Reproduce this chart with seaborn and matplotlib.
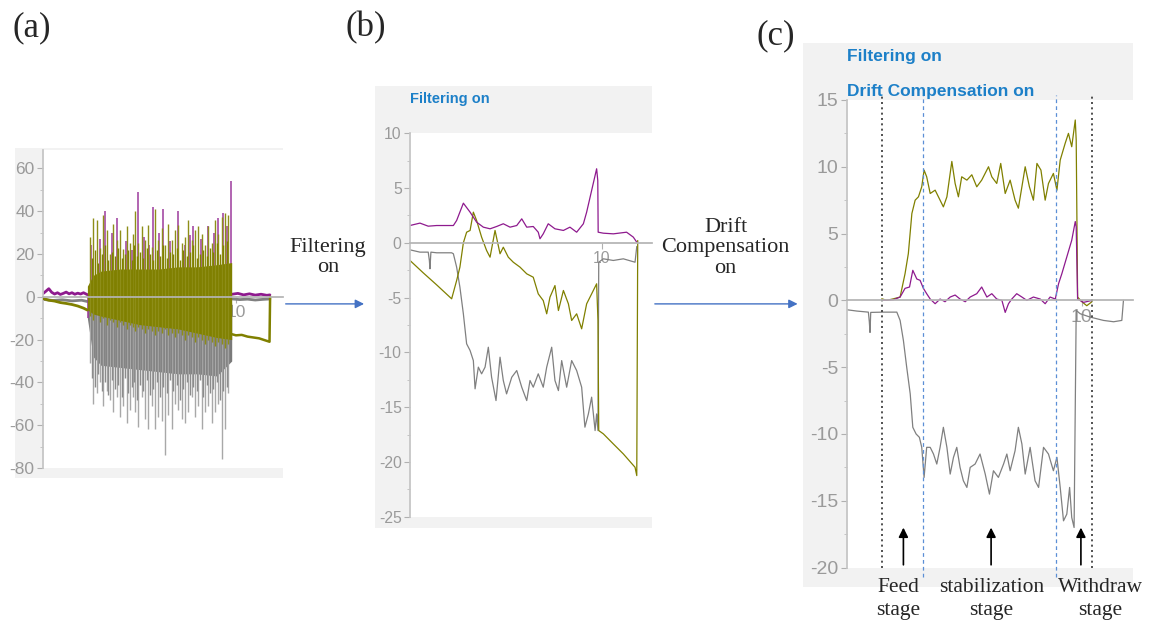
import numpy as np
import pandas as pd
import matplotlib
matplotlib.use("Agg")
import matplotlib.pyplot as plt
from matplotlib.patches import Rectangle, FancyArrowPatch
from matplotlib.ticker import MultipleLocator
import seaborn as sns

sns.set_theme(style="white")
plt.rcParams['font.family'] = ['Liberation Sans', 'DejaVu Sans']
plt.rcParams['axes.unicode_minus'] = False

OLIVE = '#808000'
PURPLE = '#8e1a8e'
GREY = '#808080'
BLUE_TXT = '#1d80c8'
SERIF = ['Liberation Serif', 'DejaVu Serif']

# ---------------- (a) raw signal, (time, value) ----------------
a_mag_pre = [(0, 1.5), (0.15, 2.6), (0.3, 3.8), (0.45, 2.1), (0.6, 1.3), (0.75, 1.9), (0.9, 1.1),
             (1.05, 1.6), (1.2, 2.2), (1.35, 1.4), (1.5, 1.9), (1.65, 1.2), (1.8, 1.7), (1.95, 1.3),
             (2.1, 1.9), (2.30, 1.0)]
a_mag_post = [(9.80, 1.2), (10.1, 1.6), (10.4, 0.9), (10.7, 1.4), (11.0, 0.8), (11.3, 1.2),
              (11.6, 0.7), (11.76, 0.9)]
a_grey_pre = [(0, -1.2), (0.5, -1.7), (1.0, -1.4), (1.5, -1.9), (2.0, -1.6), (2.30, -2.2)]
a_grey_post = [(9.80, -1.0), (10.2, -1.3), (10.6, -1.1), (11.0, -1.5), (11.4, -1.2), (11.76, -1.0)]
a_olive_pre = [(0, -0.8), (0.3, -1.6), (0.6, -2.0), (0.9, -2.7), (1.2, -3.1), (1.5, -3.6),
               (1.8, -4.3), (2.1, -5.3), (2.30, -6.2)]
a_olive_post = [(9.80, -17.5), (10.0, -18.0), (10.3, -17.8), (10.6, -18.6), (10.9, -19.0),
                (11.2, -19.4), (11.5, -20.3), (11.74, -21.0), (11.77, 0)]

# burst: tall spikes (olive tops / bottoms, grey bottoms)
a_spike_t = [2.44, 2.61, 2.78, 2.95, 3.13, 3.30, 3.47, 3.64, 3.82, 3.99, 4.16, 4.34, 4.51, 4.68,
             4.77, 4.94, 5.11, 5.28, 5.46, 5.63, 5.80, 5.98, 6.15, 6.32, 6.49, 6.67, 6.84, 7.01,
             7.18, 7.36, 7.53, 7.70, 7.88, 8.05, 8.22, 8.39, 8.57, 8.74, 8.91, 9.08, 9.26, 9.43, 9.60]
a_olive_top = [28, 37, 36, 23, 38, 31, 20, 34, 26.5, 31, 22.5, 33, 25, 29.5, 40, 25, 33, 26.5,
               33.5, 23.5, 41, 26.5, 32, 24, 34, 26.5, 31, 33.5, 25, 28, 36, 26.5, 31, 33, 29.5,
               24, 33, 25, 36, 29.5, 37.5, 39, 38]
a_olive_bot = [-9, -11, -8, -12, -10, -13, -11, -12, -14, -12, -13, -15, -13, -14, -16, -14, -15,
               -17, -15, -16, -18, -16, -17, -15, -18, -17, -19, -17, -18, -20, -18, -19, -21, -19,
               -20, -22, -20, -21, -23, -21, -22, -24, -22]
a_grey_bot = [-31, -50, -45, -40, -51, -44, -48, -54, -47, -56, -51, -59, -53, -47, -54, -61, -47,
              -57, -62, -51, -62, -56, -58, -74, -55, -62, -50, -53, -57, -59, -54, -47, -56, -51,
              -62, -54, -51, -59, -54, -50, -76, -62, -45]
# burst: shorter spikes in between
a_spike_t2 = [2.525, 2.695, 2.865, 3.04, 3.215, 3.385, 3.555, 3.73, 3.905, 4.075, 4.25, 4.425,
              4.595, 4.725, 4.855, 5.025, 5.195, 5.37, 5.545, 5.715, 5.89, 6.065, 6.235, 6.405,
              6.58, 6.755, 6.925, 7.095, 7.27, 7.445, 7.615, 7.79, 7.965, 8.135, 8.305, 8.48,
              8.655, 8.825, 8.995, 9.17, 9.345, 9.515]
a_olive_top2 = [18, 22, 16, 20, 24, 17, 21, 19, 23, 18, 20, 22, 17, 24, 19, 21, 18, 23, 20, 17,
                22, 19, 24, 18, 21, 20, 23, 17, 22, 19, 21, 24, 18, 20, 22, 19, 23, 21, 25, 20,
                24, 26]
a_grey_bot2 = [-38, -42, -36, -44, -40, -46, -39, -43, -41, -47, -38, -45, -42, -40, -48, -41,
               -44, -39, -46, -43, -40, -47, -42, -45, -39, -44, -41, -48, -43, -40, -46, -42,
               -44, -39, -47, -41, -45, -43, -40, -48, -44, -42]
a_mag_spikes = [(2.32, -10), (2.50, 24), (2.95, 27), (3.21, 40), (3.55, 30), (3.82, 37), (4.30, 26),
                (4.60, 22), (4.90, 49), (5.25, 28), (5.50, 24), (5.72, 42), (6.00, 30), (6.23, 41),
                (6.60, 26), (7.01, 40), (7.35, 24), (7.60, 29), (7.79, 33), (8.20, 27), (8.57, 33),
                (8.85, 30), (9.08, 37), (9.34, 39), (9.55, 33), (9.72, 54)]
a_core_t = [2.30, 2.6, 3.0, 4.0, 5.0, 6.0, 7.0, 8.0, 9.0, 9.78]
a_olive_core_hi = [5, 10, 12, 13, 13, 13, 14, 14, 15, 16]
a_olive_core_lo = [-6, -8, -9, -11, -13, -14, -15, -17, -19, -20]
a_grey_core_lo = [-10, -28, -32, -33, -34, -35, -36, -36, -37, -30]

# ---------------- (b) filtering on ----------------
b_magenta = [(0, 1.58), (0.52, 1.80), (0.95, 1.52), (1.39, 1.58), (2.26, 1.58), (2.43, 2.04),
             (2.78, 3.62), (3.13, 2.80), (3.47, 1.89), (3.82, 1.43), (4.17, 1.28), (4.51, 1.49),
             (4.86, 1.74), (5.21, 1.43), (5.56, 1.58), (5.82, 2.19), (6.08, 1.43), (6.42, 1.49),
             (6.68, 0.97), (6.77, 0.37), (6.94, 0.82), (7.20, 1.74), (7.55, 1.28), (7.99, 1.13),
             (8.33, 1.43), (8.68, 0.97), (9.03, 1.74), (9.20, 2.80), (9.46, 4.78), (9.72, 6.76),
             (9.78, 5.69), (9.80, 0.97), (10.07, 0.88), (10.59, 0.82), (11.28, 0.97), (11.63, 0.52),
             (11.81, 0.06)]
b_grey = [(0, -0.64), (0.52, -0.85), (0.95, -0.85), (1.01, -1.61), (1.04, -2.37), (1.09, -0.85),
          (1.39, -0.91), (2.17, -0.91), (2.26, -1.0), (2.43, -2.22), (2.60, -4.05), (2.78, -6.48),
          (2.95, -9.22), (3.13, -9.83), (3.30, -10.75), (3.39, -13.33), (3.56, -11.35),
          (3.73, -11.96), (3.91, -11.35), (4.08, -9.53), (4.25, -12.27), (4.48, -14.4),
          (4.69, -10.44), (4.86, -12.57), (5.03, -13.79), (5.30, -12.27), (5.56, -11.66),
          (5.82, -13.18), (6.08, -14.4), (6.25, -12.57), (6.42, -13.18), (6.68, -11.96),
          (6.94, -13.18), (7.12, -11.35), (7.38, -9.53), (7.55, -12.57), (7.73, -13.49),
          (7.90, -10.75), (8.16, -13.18), (8.42, -10.75), (8.68, -11.66), (8.94, -13.18),
          (9.11, -16.83), (9.29, -15.62), (9.46, -14.09), (9.64, -17.14), (9.72, -15.62),
          (9.79, -17.14), (9.83, -1.77), (10.07, -1.46), (10.59, -1.61), (11.11, -1.46),
          (11.72, -1.77), (11.81, -0.33)]
b_olive = [(0, -1.61), (0.69, -2.74), (1.39, -3.84), (2.17, -5.11), (2.43, -3.44), (2.60, -2.22),
           (2.78, 0), (2.95, 0.97), (3.13, 1.13), (3.30, 2.80), (3.47, 2.04), (3.73, 0.52),
           (3.99, -0.70), (4.17, -1.31), (4.43, 1.13), (4.69, -1.0), (4.86, -0.40), (5.12, -1.31),
           (5.38, -1.77), (5.73, -2.22), (6.08, -2.83), (6.42, -3.14), (6.68, -4.66), (6.94, -5.27),
           (7.12, -6.48), (7.29, -4.96), (7.55, -3.90), (7.73, -6.18), (7.99, -4.35), (8.25, -5.57),
           (8.42, -7.09), (8.68, -6.48), (8.94, -7.85), (9.20, -5.57), (9.46, -4.66), (9.72, -3.74),
           (9.79, -7.09), (9.83, -17.14), (10.07, -17.44), (10.59, -18.36), (11.11, -19.27),
           (11.72, -20.49), (11.81, -21.25), (11.86, 0.21)]

# ---------------- (c) filtering + drift compensation on ----------------
c_olive = [(1.49, 0.12), (1.70, 0), (1.99, 0.12), (2.27, 0.25), (2.48, 2.0), (2.62, 3.5), (2.77, 6.5),
           (2.91, 7.5), (3.05, 7.75), (3.19, 8.5), (3.29, 9.75), (3.40, 9.25), (3.55, 8.0),
           (3.76, 8.25), (3.90, 7.75), (4.11, 7.0), (4.26, 7.75), (4.47, 10.4), (4.61, 8.75),
           (4.75, 7.75), (4.89, 9.25), (5.11, 9.0), (5.32, 9.4), (5.53, 8.5), (5.74, 9.0),
           (6.03, 10.0), (6.17, 9.25), (6.38, 8.75), (6.55, 10.25), (6.74, 8.0), (6.95, 9.0),
           (7.16, 7.5), (7.30, 6.9), (7.45, 8.5), (7.59, 10.0), (7.77, 8.5), (7.94, 7.5),
           (8.09, 10.25), (8.26, 9.75), (8.44, 7.5), (8.58, 8.75), (8.79, 9.5), (8.94, 8.25),
           (9.08, 10.5), (9.29, 11.75), (9.43, 12.5), (9.57, 11.5), (9.72, 13.5), (9.76, 12.0),
           (9.82, 0.25), (10.0, -0.1), (10.21, -0.4), (10.43, -0.1)]
c_magenta = [(1.56, 0), (1.99, 0.05), (2.27, 0.25), (2.48, 0.9), (2.67, 1.0), (2.81, 2.25),
             (2.98, 1.6), (3.12, 1.5), (3.26, 0.9), (3.40, 0.5), (3.55, 0.1), (3.76, -0.25),
             (3.97, 0.1), (4.18, -0.1), (4.40, 0.25), (4.61, 0.4), (4.82, 0.1), (5.04, -0.1),
             (5.25, 0.25), (5.53, 0.5), (5.74, 1.0), (5.96, 0.25), (6.17, 0.5), (6.38, 0.1),
             (6.60, 0), (6.74, -0.9), (6.88, -0.25), (7.02, 0.1), (7.23, 0.5), (7.45, 0.25),
             (7.66, 0), (7.94, 0.25), (8.23, 0.1), (8.44, -0.25), (8.65, 0.25), (8.87, 0.1),
             (9.01, 1.25), (9.15, 2.0), (9.36, 3.25), (9.57, 4.5), (9.72, 5.9), (9.76, 5.5),
             (9.82, 0.1), (10.07, -0.15), (10.43, 0)]
c_grey = [(0, -0.7), (0.43, -0.8), (0.92, -0.88), (0.96, -1.6), (0.99, -2.4), (1.02, -0.9),
          (1.56, -0.88), (2.13, -0.88), (2.27, -1.5), (2.41, -3.0), (2.55, -5.0), (2.70, -7.0),
          (2.81, -9.5), (2.95, -10.0), (3.09, -10.25), (3.19, -11.0), (3.29, -13.25), (3.40, -11.0),
          (3.55, -11.0), (3.69, -11.5), (3.83, -12.25), (3.97, -11.0), (4.11, -9.5), (4.26, -11.0),
          (4.40, -13.0), (4.54, -11.75), (4.68, -11.0), (4.82, -12.5), (4.96, -13.5), (5.11, -14.0),
          (5.25, -12.5), (5.46, -12.25), (5.67, -11.5), (5.89, -13.0), (6.07, -14.5), (6.24, -12.75),
          (6.45, -13.25), (6.67, -12.25), (6.81, -11.5), (6.95, -12.75), (7.16, -11.25), (7.30, -9.5),
          (7.45, -10.75), (7.59, -13.0), (7.80, -11.0), (8.01, -13.5), (8.16, -14.0), (8.37, -11.0),
          (8.58, -11.5), (8.79, -12.75), (8.94, -11.75), (9.08, -14.0), (9.22, -16.5), (9.36, -16.0),
          (9.48, -14.0), (9.57, -16.25), (9.67, -17.0), (9.76, -0.75), (9.93, -1.0), (10.35, -1.25),
          (10.92, -1.5), (11.35, -1.6), (11.70, -1.5), (11.77, 0)]
c_stage_bounds = [1.52, 10.43]
c_stable_bounds = [3.26, 8.91]
c_arrow_t = [2.41, 6.14, 9.96]
stage_labels = ['Feed\nstage', 'stabilization\nstage', 'Withdraw\nstage']


def to_df(pairs):
    return pd.DataFrame(pairs, columns=['t', 'v'])


def trace(ax, pairs, color, lw=1.0, z=2):
    d = to_df(pairs)
    sns.lineplot(data=d, x='t', y='v', ax=ax, color=color, lw=lw, sort=False,
                 estimator=None, zorder=z)


def style_axis(ax, ylim, xmax, major, minor, fs):
    ax.set_xlim(0, xmax)
    ax.set_ylim(*ylim)
    ax.set_facecolor('white')
    ax.grid(False)
    for s in ['top', 'right']:
        ax.spines[s].set_visible(False)
    ax.spines['left'].set_color('#c4c4c4')
    ax.spines['bottom'].set_position(('data', 0))
    ax.spines['bottom'].set_color('#b4b4b4')
    ax.spines['bottom'].set_zorder(5)
    ax.set_xticks([10])
    ax.set_xticklabels(['10'])
    ax.yaxis.set_major_locator(MultipleLocator(major))
    ax.yaxis.set_minor_locator(MultipleLocator(minor))
    ax.tick_params(axis='both', which='major', color='#b0b0b0', labelcolor='#9a9a9a',
                   labelsize=fs, length=4, width=0.8, direction='out', left=True, bottom=True, pad=2)
    ax.tick_params(axis='y', which='minor', length=2, width=0.7, color='#c4c4c4', left=True)
    ax.set_xlabel('')
    ax.set_ylabel('')


fig = plt.figure(figsize=(11.5, 6.24), dpi=100)

# grey panel backgrounds (figure fraction)
for x0, y0, w, h in [(0.013, 0.234, 0.233, 0.529), (0.326, 0.154, 0.241, 0.708),
                     (0.698, 0.059, 0.287, 0.872)]:
    fig.add_artist(Rectangle((x0, y0), w, h, transform=fig.transFigure,
                             facecolor='#f2f2f2', edgecolor='none', zorder=-1))

ax_a = fig.add_axes([0.0374, 0.25, 0.2087, 0.5096])
ax_b = fig.add_axes([0.3565, 0.172, 0.2104, 0.6144])
ax_c = fig.add_axes([0.7363, 0.0904, 0.249, 0.7494])

# ---- panel (a)
ax_a.fill_between(a_core_t, -3, a_grey_core_lo, color='#7a7a7a', lw=0, zorder=1)
ax_a.vlines(a_spike_t, -5, a_grey_bot, color='#a8a8a8', lw=1.0, zorder=1)
ax_a.vlines(a_spike_t2, -5, a_grey_bot2, color='#8c8c8c', lw=1.0, zorder=1)
trace(ax_a, a_grey_pre, GREY, lw=2)
trace(ax_a, a_grey_post, GREY, lw=2)
st, sv = zip(*a_mag_spikes)
ax_a.vlines(st, 0, sv, color='#9c3a9c', lw=1.1, zorder=2)
trace(ax_a, a_mag_pre, PURPLE, lw=2)
trace(ax_a, a_mag_post, PURPLE, lw=2)
ax_a.fill_between(a_core_t, a_olive_core_lo, a_olive_core_hi, color=OLIVE, lw=0, zorder=3)
ax_a.vlines(a_spike_t, a_olive_bot, a_olive_top, color='#8e8e18', lw=1.0, zorder=3)
ax_a.vlines(a_spike_t2, 0, a_olive_top2, color=OLIVE, lw=1.0, zorder=3)
trace(ax_a, a_olive_pre, OLIVE, lw=2, z=3)
trace(ax_a, a_olive_post, OLIVE, lw=1.8, z=3)
style_axis(ax_a, (-80, 68.6), 12.44, 20, 10, 12.5)

# ---- panel (b)
trace(ax_b, b_grey, GREY, lw=0.9)
trace(ax_b, b_olive, OLIVE, lw=0.9)
trace(ax_b, b_magenta, PURPLE, lw=0.9)
style_axis(ax_b, (-25, 10), 12.6, 5, 2.5, 11.3)

# ---- panel (c)
trace(ax_c, c_grey, GREY, lw=0.9)
trace(ax_c, c_olive, OLIVE, lw=0.9)
trace(ax_c, c_magenta, PURPLE, lw=0.9)
for t in c_stage_bounds:
    ax_c.axvline(t, ymin=0, ymax=1.01, color='#333333', ls=(0, (1.2, 2)), lw=1.2, clip_on=False, zorder=4)
for t in c_stable_bounds:
    ax_c.axvline(t, ymin=-0.02, ymax=1.01, color='#5b8fd6', ls=(0, (3, 2.5)), lw=0.9, clip_on=False, zorder=4)
for t in c_arrow_t:
    ax_c.annotate('', xy=(t, -16.8), xytext=(t, -20), annotation_clip=False,
                  arrowprops=dict(arrowstyle='-|>', color='black', lw=1.2, mutation_scale=14))
style_axis(ax_c, (-20, 15), 12.18, 5, 2.5, 14)

# ---- panel texts
fig.text(0.3565, 0.841, 'Filtering on', color=BLUE_TXT, fontsize=10.5, fontweight='bold', va='center')
fig.text(0.7365, 0.909, 'Filtering on', color=BLUE_TXT, fontsize=12.5, fontweight='bold', va='center')
fig.text(0.7365, 0.854, 'Drift Compensation on', color=BLUE_TXT, fontsize=12.5, fontweight='bold',
         va='center')

for lbl, x, y in [('(a)', 0.028, 0.955), ('(b)', 0.318, 0.955), ('(c)', 0.675, 0.942)]:
    fig.text(x, y, lbl, family=SERIF, fontsize=25, ha='center', va='center')

fig.text(0.2852, 0.587, 'Filtering\non', family=SERIF, fontsize=16, ha='center', va='center',
         linespacing=1.1)
fig.text(0.631, 0.603, 'Drift\nCompensation\non', family=SERIF, fontsize=16, ha='center',
         va='center', linespacing=1.1)

for (x0, x1) in [(0.246, 0.319), (0.567, 0.696)]:
    fig.add_artist(FancyArrowPatch((x0, 0.513), (x1, 0.513), transform=fig.transFigure,
                                   arrowstyle='-|>', mutation_scale=13, color='#4472c4', lw=1))

for lbl, x in zip(stage_labels, [0.781, 0.862, 0.957]):
    fig.text(x, 0.04, lbl, family=SERIF, fontsize=15.5, ha='center', va='center', linespacing=1.25)

fig.savefig('out.png', dpi=100)
